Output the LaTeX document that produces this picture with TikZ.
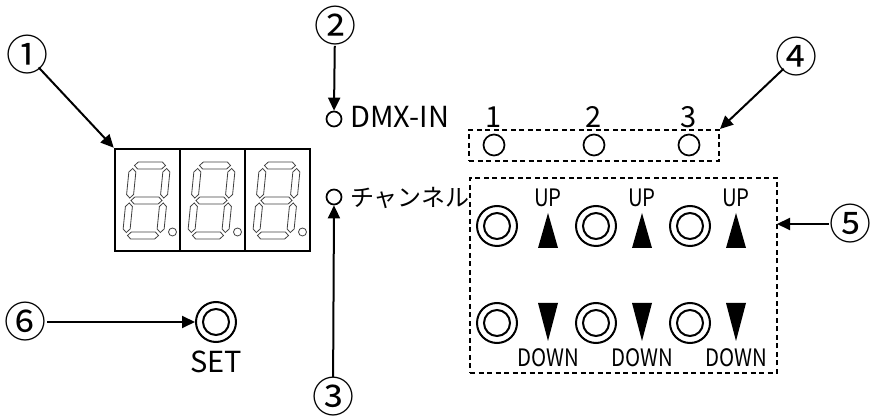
\documentclass[tikz,border=0pt]{standalone}
\usepackage{fontspec}
\setmainfont{Noto Sans CJK JP}
\usetikzlibrary{arrows.meta}
\newcommand\mysegh[1]{\draw[seg] (-15.5,#1) -- (-12,#1-3.5) -- (12,#1-3.5) -- (15.5,#1) -- (12,#1+3.5) -- (-12,#1+3.5) -- cycle;}
\newcommand\mysegv[3]{\draw[seg] (#1,#2) -- (#1+3.5,#2+3.5) -- (#1+3.5,#3-3.5) -- (#1,#3) -- (#1-3.5,#3-3.5) -- (#1-3.5,#2+3.5) -- cycle;}
\begin{document}
\begin{tikzpicture}[x=1pt,y=-1pt,
  num/.style={font=\fontsize{42}{42}\selectfont, inner sep=0pt},
  lbl/.style={font=\fontsize{29}{29}\selectfont, inner sep=0pt},
  sml/.style={font=\fontsize{24}{24}\selectfont\addfontfeature{FakeStretch=0.85}, inner sep=0pt},
  kana/.style={font=\fontsize{24}{24}\selectfont, inner sep=0pt},
  arr/.style={line width=2pt, -{Triangle[length=13pt,width=12pt]}},
  led/.style={circle, draw, line width=1.7pt, minimum size=15pt, inner sep=0pt},
  led2/.style={circle, draw, line width=1.7pt, minimum size=21pt, inner sep=0pt},
  btn/.style={circle, draw, line width=2pt, minimum size=40pt, inner sep=0pt,
    append after command={\pgfextra{\draw[line width=2pt] (\tikzlastnode.center) circle (13pt);}}},
  dbox/.style={draw, dashed, dash pattern=on 5pt off 3.5pt, line width=2pt, inner sep=0pt},
  seg/.style={draw=black!75, line width=0.8pt},
  tri/.style={fill=black}]
\useasboundingbox (0,0) rectangle (871,419);

% circled numbers
\node[num] (n1) at (27,55) {①};
\node[num] (n2) at (335,26) {②};
\node[num] (n3) at (333,397) {③};
\node[num] (n4) at (796,57) {④};
\node[num] (n5) at (850,224) {⑤};
\node[num] (n6) at (26,322) {⑥};

% display
\node[draw, line width=2.5pt, minimum width=195pt, minimum height=102pt, inner sep=0pt] (disp) at (212.5,200) {};
\draw[line width=2.5pt] (180,149) -- (180,251) (245,149) -- (245,251);
\foreach \i in {0,1,2}{
  \begin{scope}[shift={(146.5+65*\i,200.5)}, xslant=0.1]
    \mysegh{-35}\mysegh{0}\mysegh{35}
    \mysegv{-17}{-32}{-2.5}\mysegv{17}{-32}{-2.5}
    \mysegv{-17}{2.5}{32}\mysegv{17}{2.5}{32}
  \end{scope}
  \draw[seg] (172.5+65*\i,232) circle (4pt);
}

% DMX-IN and channel LEDs
\node[led] (dmx) at (334,119) {};
\node[lbl, anchor=base west] (dmxt) at (350,128) {DMX-IN};
\node[led] (ch) at (334,197) {};
\node[kana, anchor=west] (cht) at (350,198) {チャンネル};

% box 4
\node[dbox, minimum width=250pt, minimum height=31pt] (box4) at (594,145.5) {};
\foreach \x/\t in {494/1,594/2,689/3}{
  \node[led2] (l\t) at (\x,145) {};
  \node[lbl, anchor=base] (lt\t) at (\x,128) {\t};
}

% box 5
\node[dbox, minimum width=307pt, minimum height=195pt] (box5) at (623.5,275.5) {};
\coordinate (t5) at (777,224);
\foreach \x/\tx/\k in {497/548/1,596/642/2,690/736/3}{
  \node[btn] (u\k) at (\x,226) {};
  \fill[tri] (\tx,213) -- (\tx+10,248) -- (\tx-10,248) -- cycle;
  \node[sml, anchor=base] (ut\k) at (\tx,207) {UP};
  \node[btn] (d\k) at (\x,323) {};
  \fill[tri] (\tx,341) -- (\tx+10,303) -- (\tx-10,303) -- cycle;
  \node[sml, anchor=base] (dt\k) at (\tx,367) {DOWN};
}

% SET
\node[btn] (set) at (216,322) {};
\node[lbl, anchor=base] (sett) at (216,373) {SET};

% arrows
\draw[arr, shorten <=17pt] (n1.center) -- (disp.north west);
\draw[arr] (n2) -- (dmx.north);
\draw[arr] (n3) -- (ch.south);
\draw[arr, shorten <=17pt] (n4.center) -- (box4.north east);
\draw[arr] (n5) -- (t5);
\draw[arr] (n6) -- (set.west);
\end{tikzpicture}
\end{document}
